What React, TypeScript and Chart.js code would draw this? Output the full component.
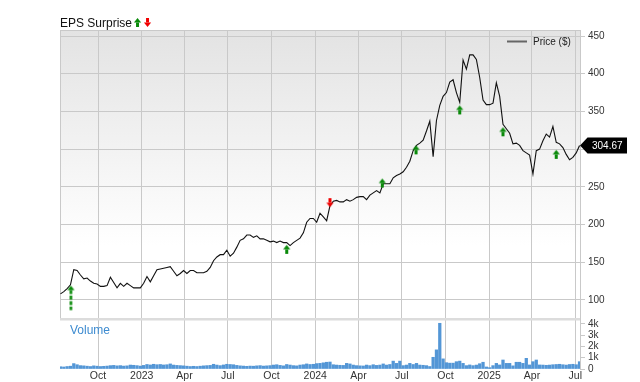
import React, { useEffect, useRef } from 'react';
import { Chart, registerables } from 'chart.js';

Chart.register(...registerables);

// ---------- data ----------
const START_DATE = '2022-07-13'; // left edge of the x axis
const END_DATE = '2025-07-11'; // right edge of the x axis
const FIRST_WEEK = '2022-07-14';

const PRICES = [
  108, 111, 115, 120, 140, 139, 133, 128, 129, 125,
  122, 121, 118, 118, 119, 130, 123, 116, 122, 118,
  122, 119, 116, 116, 116, 122, 131, 124, 132, 140,
  141, 142, 143, 144, 138, 132, 135, 139, 135, 139,
  139, 136, 136, 136, 138, 143, 152, 157, 160, 160,
  166, 158, 162, 170, 179, 181, 186, 186, 183, 185,
  181, 181, 179, 177, 178, 176, 178, 176, 176, 172,
  176, 179, 182, 189, 203, 208, 208, 203, 215, 210,
  205, 225, 231, 232, 230, 230, 233, 231, 233, 236,
  237, 237, 233, 239, 242, 245, 242, 254, 254, 254,
  262, 265, 267, 270, 276, 284, 298, 305, 308, 312,
  324, 337, 290, 338, 358, 370, 375, 389, 392, 375,
  362, 418, 406, 425, 425, 419, 395, 365, 359, 359,
  361, 388, 370, 333, 327, 321, 307, 308, 305, 298,
  295, 292, 267, 298, 300, 311, 320, 316, 330, 309,
  307, 302, 293, 286, 289, 295, 304.67,
];

const VOLUME_K = [
  0.2, 0.18, 0.22, 0.25, 0.48, 0.38, 0.3, 0.28, 0.25, 0.22,
  0.28, 0.25, 0.22, 0.24, 0.26, 0.3, 0.32, 0.28, 0.3, 0.26,
  0.28, 0.35, 0.33, 0.3, 0.26, 0.32, 0.4, 0.36, 0.42, 0.38,
  0.4, 0.36, 0.38, 0.45, 0.35, 0.32, 0.3, 0.28, 0.25, 0.22,
  0.24, 0.22, 0.25, 0.28, 0.3, 0.32, 0.42, 0.35, 0.3, 0.36,
  0.42, 0.4, 0.38, 0.32, 0.28, 0.26, 0.24, 0.26, 0.25, 0.28,
  0.3, 0.26, 0.28, 0.3, 0.35, 0.38, 0.32, 0.28, 0.4, 0.35,
  0.3, 0.28, 0.35, 0.38, 0.45, 0.4, 0.42, 0.48, 0.5, 0.55,
  0.6, 0.62, 0.38, 0.35, 0.33, 0.32, 0.5, 0.45, 0.35, 0.3,
  0.28, 0.27, 0.35, 0.3, 0.38, 0.32, 0.35, 0.45, 0.35, 0.4,
  0.7, 0.5, 0.7, 0.3, 0.35, 0.5, 0.4, 0.5, 0.35, 0.33,
  0.3, 0.22, 1.04, 1.7, 4.06, 0.9, 0.56, 0.52, 0.52, 0.65,
  0.7, 0.5, 0.3, 0.36, 0.3, 0.35, 0.47, 0.6, 0.18, 0.12,
  0.3, 0.5, 0.36, 0.8, 0.5, 0.5, 0.28, 0.6, 0.6, 0.5,
  0.95, 0.36, 0.65, 0.8, 0.36, 0.35, 0.33, 0.35, 0.38, 0.4,
  0.42, 0.38, 0.35, 0.4, 0.42, 0.38, 0.65,
];

const X_TICK_DATES = [
  '2022-10-01', '2023-01-01', '2023-04-01', '2023-07-01', '2023-10-01', '2024-01-01',
  '2024-04-01', '2024-07-01', '2024-10-01', '2025-01-01', '2025-04-01', '2025-07-01',
];
const X_TICK_LABELS = ['Oct', '2023', 'Apr', 'Jul', 'Oct', '2024', 'Apr', 'Jul', 'Oct', '2025', 'Apr', 'Jul'];

const PRICE_TICKS = [100, 150, 200, 250, 300, 350, 400, 450];
const VOLUME_TICKS = [0, 1, 2, 3, 4];
const VOLUME_TICK_LABELS = ['0', '1k', '2k', '3k', '4k'];

const EPS_BEAT_DATES = ['2022-08-05', '2023-11-02', '2024-05-21', '2024-07-31', '2024-10-31', '2025-01-30', '2025-05-22'];
const EPS_BEAT_PRICES = [119, 173, 261, 305, 358, 329, 299];
const EPS_MISS_DATES = ['2024-02-01'];
const EPS_MISS_PRICES = [223];

const LAST_PRICE = 304.67;

// ---------- helpers ----------
const DAY_MS = 86400000;
const toUTC = (s: string) => {
  const [y, m, d] = s.split('-').map(Number);
  return Date.UTC(y, m - 1, d);
};
const dayOf = (s: string) => (toUTC(s) - toUTC(START_DATE)) / DAY_MS;

const FONT = "'Liberation Sans', Arial, Helvetica, sans-serif";
const GREEN = '#0a8a0a';
const RED = '#f00000';
const GRID = '#c9c9c9';

function drawArrow(
  ctx: CanvasRenderingContext2D,
  cx: number,
  tipY: number,
  dir: 'up' | 'down',
  color: string,
  tail = 4.5,
  dashed = false
) {
  const head = 4.5;
  const hw = 3.6;
  ctx.save();
  ctx.fillStyle = color;
  const s = dir === 'up' ? 1 : -1;
  ctx.beginPath();
  ctx.moveTo(cx, tipY);
  ctx.lineTo(cx + hw, tipY + s * head);
  ctx.lineTo(cx - hw, tipY + s * head);
  ctx.closePath();
  ctx.fill();
  const y0 = tipY + s * head;
  if (dashed) {
    for (let t = 0; t < tail; t += 5.5) {
      const l = Math.min(4, tail - t);
      const ya = y0 + s * t;
      ctx.fillRect(cx - 1.3, s > 0 ? ya : ya - l, 2.6, l);
    }
  } else {
    ctx.fillRect(cx - 1.5, s > 0 ? y0 : y0 - tail, 3, tail);
  }
  ctx.restore();
}

function makeArrowImage(dir: 'up' | 'down', color: string, tail: number, dashed: boolean) {
  const c = document.createElement('canvas');
  const len = 4.5 + tail;
  c.width = 9;
  c.height = Math.ceil(len) * 2 + 2;
  const ctx = c.getContext('2d') as CanvasRenderingContext2D;
  drawArrow(ctx, c.width / 2, c.height / 2, dir, color, tail, dashed);
  return c;
}

const decorPlugin = {
  id: 'decor',
  beforeDraw(chart: any) {
    const { ctx, chartArea } = chart;
    const py = chart.scales.y;
    ctx.save();
    const g = ctx.createLinearGradient(0, py.top, 0, py.bottom);
    g.addColorStop(0, '#e3e3e3');
    g.addColorStop(0.75, '#ffffff');
    g.addColorStop(1, '#ffffff');
    ctx.fillStyle = g;
    ctx.fillRect(chartArea.left, py.top, chartArea.right - chartArea.left, py.bottom - py.top);
    ctx.restore();
  },
  beforeDatasetsDraw(chart: any) {
    const { ctx, chartArea } = chart;
    const py = chart.scales.y;
    ctx.save();
    ctx.fillStyle = '#dcdcdc';
    ctx.fillRect(chartArea.left, py.bottom, chartArea.right - chartArea.left, 2.5);
    ctx.strokeStyle = GRID;
    ctx.lineWidth = 1;
    ctx.beginPath();
    ctx.moveTo(chartArea.left, chartArea.top + 0.5);
    ctx.lineTo(chartArea.right, chartArea.top + 0.5);
    ctx.moveTo(chartArea.left + 0.5, chartArea.top);
    ctx.lineTo(chartArea.left + 0.5, py.bottom);
    ctx.stroke();
    ctx.restore();
  },
  afterDraw(chart: any) {
    const { ctx, chartArea } = chart;
    const py = chart.scales.y;
    ctx.save();
    // title
    ctx.fillStyle = '#111';
    ctx.font = `12px ${FONT}`;
    ctx.textBaseline = 'alphabetic';
    ctx.textAlign = 'left';
    ctx.fillText('EPS Surprise', 60, 27);
    const tw = ctx.measureText('EPS Surprise').width;
    drawArrow(ctx, 60 + tw + 5.5, 18, 'up', GREEN, 4.5);
    drawArrow(ctx, 60 + tw + 15.5, 27, 'down', RED, 4.5);

    // legend
    ctx.strokeStyle = '#666';
    ctx.lineWidth = 2;
    ctx.beginPath();
    ctx.moveTo(507, 41.5);
    ctx.lineTo(527, 41.5);
    ctx.stroke();
    ctx.fillStyle = '#222';
    ctx.font = `10px ${FONT}`;
    ctx.fillText('Price ($)', 533, 45);

    // volume label
    ctx.fillStyle = '#3d8bd0';
    ctx.font = `12px ${FONT}`;
    ctx.fillText('Volume', 70, 334);

    // last price callout
    const yp = py.getPixelForValue(LAST_PRICE);
    const x0 = chartArea.right;
    ctx.fillStyle = '#000';
    ctx.beginPath();
    ctx.moveTo(x0, yp);
    ctx.lineTo(x0 + 7.5, yp - 8);
    ctx.lineTo(x0 + 47, yp - 8);
    ctx.lineTo(x0 + 47, yp + 8);
    ctx.lineTo(x0 + 7.5, yp + 8);
    ctx.closePath();
    ctx.fill();
    ctx.fillStyle = '#fff';
    ctx.font = `10px ${FONT}`;
    ctx.textBaseline = 'middle';
    ctx.fillText(LAST_PRICE.toFixed(2), x0 + 12, yp + 0.5);
    ctx.restore();
  },
};

export default function App() {
  const ref = useRef<HTMLCanvasElement | null>(null);

  useEffect(() => {
    if (!ref.current) return;
    const firstDay = dayOf(FIRST_WEEK);
    const weekX = PRICES.map((_, i) => firstDay + 7 * i);

    const upImg = makeArrowImage('up', GREEN, 4.5, false);
    const upDashedImg = makeArrowImage('up', GREEN, 20, true);
    const downImg = makeArrowImage('down', RED, 4.5, false);

    const chart = new Chart(ref.current, {
      type: 'line',
      data: {
        datasets: [
          {
            type: 'scatter',
            label: 'EPS beat',
            data: EPS_BEAT_DATES.map((d, i) => ({ x: dayOf(d), y: EPS_BEAT_PRICES[i] })),
            yAxisID: 'y',
            xAxisID: 'x',
            pointStyle: (c: any) => (c.dataIndex === 0 ? upDashedImg : upImg),
            pointRadius: 4,
            order: 0,
          } as any,
          {
            type: 'scatter',
            label: 'EPS miss',
            data: EPS_MISS_DATES.map((d, i) => ({ x: dayOf(d), y: EPS_MISS_PRICES[i] })),
            yAxisID: 'y',
            xAxisID: 'x',
            pointStyle: downImg,
            pointRadius: 4,
            order: 0,
          } as any,
          {
            type: 'line',
            label: 'Price ($)',
            data: PRICES.map((p, i) => ({ x: weekX[i], y: p })),
            yAxisID: 'y',
            xAxisID: 'x',
            borderColor: '#111',
            borderWidth: 1.1,
            pointRadius: 0,
            tension: 0,
            fill: false,
            order: 1,
          } as any,
          {
            type: 'bar',
            label: 'Volume',
            data: VOLUME_K.map((v, i) => ({ x: weekX[i], y: v })),
            yAxisID: 'yv',
            xAxisID: 'x',
            backgroundColor: '#5396d6',
            borderWidth: 0,
            barThickness: 2.6,
            order: 2,
          } as any,
        ],
      },
      options: {
        animation: false,
        responsive: true,
        maintainAspectRatio: false,
        events: [],
        layout: { padding: { left: 60, top: 30, right: 0, bottom: 0 } },
        plugins: {
          legend: { display: false },
          tooltip: { enabled: false },
          title: { display: false },
        },
        scales: {
          x: {
            type: 'linear',
            position: 'bottom',
            offset: false,
            min: 0,
            max: dayOf(END_DATE),
            grid: { color: GRID, drawTicks: false, offset: false },
            border: { display: false },
            ticks: {
              autoSkip: false,
              maxRotation: 0,
              padding: 1,
              color: '#333',
              font: { family: FONT, size: 10.5 },
              callback: (_v: any, i: number) => X_TICK_LABELS[i],
            },
            afterBuildTicks: (axis: any) => {
              axis.ticks = X_TICK_DATES.map((d) => ({ value: dayOf(d) }));
            },
            afterFit: (axis: any) => {
              axis.height = 13;
            },
          },
          y: {
            type: 'linear',
            position: 'right',
            stack: 'panels',
            stackWeight: 288,
            min: 76,
            max: 458,
            grid: { color: GRID, tickLength: 5 },
            border: { display: true, color: GRID },
            ticks: {
              autoSkip: false,
              padding: 3,
              color: '#333',
              font: { family: FONT, size: 10 },
              callback: (v: any) => String(v),
            },
            afterBuildTicks: (axis: any) => {
              axis.ticks = PRICE_TICKS.map((v) => ({ value: v }));
            },
            afterFit: (axis: any) => {
              axis.width = 60;
            },
          },
          yv: {
            type: 'linear',
            position: 'right',
            stack: 'panels',
            stackWeight: 51,
            min: 0,
            max: 4.53,
            grid: { color: GRID, tickLength: 5, drawOnChartArea: false },
            border: { display: true, color: GRID },
            ticks: {
              autoSkip: false,
              padding: 3,
              color: '#333',
              font: { family: FONT, size: 10 },
              callback: (_v: any, i: number) => VOLUME_TICK_LABELS[i],
            },
            afterBuildTicks: (axis: any) => {
              axis.ticks = VOLUME_TICKS.map((v) => ({ value: v }));
            },
            afterFit: (axis: any) => {
              axis.width = 60;
            },
          },
        },
      } as any,
      plugins: [decorPlugin],
    });
    return () => chart.destroy();
  }, []);

  return (
    <div style={{ position: 'absolute', left: 0, top: 0, width: 640, height: 382, background: '#fff' }}>
      <canvas ref={ref} style={{ display: 'block' }} />
    </div>
  );
}
